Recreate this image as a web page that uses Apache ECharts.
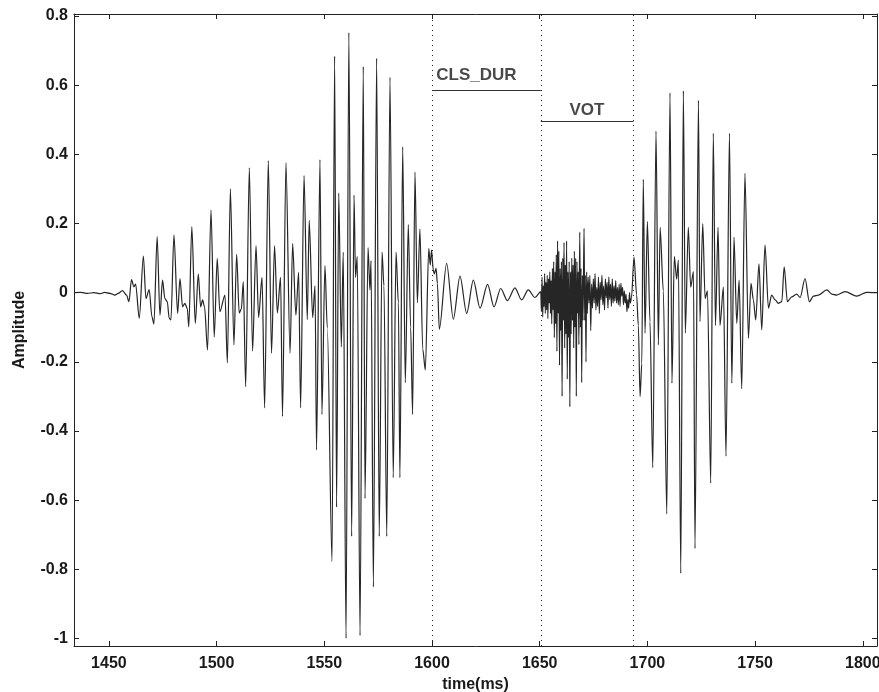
<!DOCTYPE html>
<html>
<head>
<meta charset="utf-8">
<script src="https://cdn.jsdelivr.net/npm/echarts@6/dist/echarts.min.js"></script>
<style>
html,body{margin:0;padding:0;background:#fff;}
#chart{width:879px;height:692px;}
</style>
</head>
<body>
<div id="chart"></div>
<script>
// ---- data (time in ms, amplitude) ----
const xTicks = [1450, 1500, 1550, 1600, 1650, 1700, 1750, 1800];
const yTicks = [-1, -0.8, -0.6, -0.4, -0.2, 0, 0.2, 0.4, 0.6, 0.8];

const silenceStart = [
  [1433.8, 0.000], [1437, 0.001], [1440, -0.002], [1443, 0.000], [1446, -0.003], [1448, 0.001], [1450.5, -0.002]
];

const vowel1Onset = [
  [1452.8, -0.007], [1454.3, -0.002], [1456.3, 0.006], [1458.2, -0.007], [1459.3, -0.026], [1460.5, 0.038],
  [1461.6, 0.017], [1462.4, 0.025], [1464.1, -0.074], [1466.0, 0.106], [1467.2, -0.017], [1468.7, 0.009],
  [1470.0, -0.070], [1470.9, -0.091], [1472.4, 0.162], [1473.7, -0.065], [1474.9, 0.036], [1476.0, -0.017],
  [1477.1, -0.026], [1478.0, -0.074], [1478.8, -0.079], [1480.2, 0.167], [1481.9, -0.060], [1483.0, 0.041],
  [1484.2, -0.041], [1485.3, -0.031], [1486.4, -0.046], [1487.1, -0.099], [1488.5, 0.191], [1490.1, -0.089],
  [1491.5, 0.054], [1492.6, -0.041], [1493.5, -0.021], [1494.4, -0.041], [1495.8, -0.166], [1497.4, 0.239],
  [1498.9, -0.128], [1500.3, 0.099], [1501.5, -0.055], [1503.9, -0.007], [1505.0, -0.203], [1506.4, 0.300]
];

const vowel1Body = [
  [1508.05, -0.151], [1509.3, 0.111], [1510.5, -0.059], [1511.5, -0.047], [1512.4, 0.032], [1513.5, -0.272],
  [1515.2, 0.361], [1516.7, -0.169], [1518.3, 0.136], [1519.5, -0.072], [1521.1, 0.044], [1522.3, -0.333],
  [1524.0, 0.382], [1525.5, -0.175], [1526.9, 0.136], [1528.2, -0.059], [1529.7, 0.044], [1530.6, -0.358],
  [1532.2, 0.376], [1534.1, -0.175], [1535.3, 0.142], [1536.8, -0.065], [1538.1, 0.059], [1539.0, -0.333],
  [1540.6, 0.339], [1542.1, -0.078], [1543.0, 0.209], [1544.6, -0.072], [1545.7, 0.020], [1546.4, -0.455],
  [1548.0, 0.385], [1548.9, -0.352], [1550.3, 0.078], [1551.4, -0.102], [1553.6, -0.778], [1554.8, 0.684],
  [1555.7, -0.620], [1556.7, 0.288], [1557.9, -0.157], [1558.8, 0.117], [1560.1, -1.0], [1561.4, 0.752],
  [1562.7, -0.705], [1563.8, 0.282], [1564.5, 0.044], [1565.3, 0.105], [1566.6, -0.992], [1568.1, 0.654],
  [1568.9, -0.595], [1570.3, 0.130], [1571.2, 0.008], [1571.7, 0.093], [1572.8, -0.851], [1574.3, 0.678],
  [1575.5, -0.705], [1576.8, 0.117], [1577.7, 0.020], [1579.0, -0.705], [1580.5, 0.623], [1582.0, -0.535],
  [1583.3, 0.117], [1584.4, -0.029], [1585.1, -0.535], [1586.4, 0.422], [1587.6, -0.260], [1589.0, 0.197],
  [1590.1, -0.102], [1591.0, -0.352], [1592.1, 0.349], [1593.2, -0.029], [1594.4, 0.184], [1595.7, -0.163],
  [1596.9, -0.224], [1598.5, 0.128], [1599.2, 0.080], [1599.8, 0.123]
];

const closure = [
  [1600.6, 0.065], [1601.1, 0.054], [1601.9, 0.070], [1602.5, 0.027], [1603.4, -0.106], [1606.8, 0.085],
  [1609.9, -0.077], [1613.0, 0.048], [1616.1, -0.060], [1619.2, 0.036], [1622.3, -0.045], [1625.8, 0.024],
  [1628.8, -0.041], [1631.9, 0.012], [1635.0, -0.023], [1638.5, 0.014], [1641.6, -0.021], [1644.7, 0.008],
  [1647.8, -0.014], [1650.5, 0.003]
];

const burst = [
  [1650.8, -0.055], [1651.1, 0.045], [1651.4, -0.070], [1651.7, 0.020], [1652.0, -0.040], [1652.3, 0.055],
  [1652.6, -0.060], [1652.9, 0.030], [1653.2, -0.050], [1653.5, 0.050], [1653.8, -0.075], [1654.1, 0.040],
  [1654.4, -0.030], [1654.7, 0.060], [1655.0, -0.060], [1655.3, 0.035], [1655.6, -0.090], [1655.9, 0.070],
  [1656.2, -0.050], [1656.5, 0.090], [1656.8, -0.130], [1657.1, 0.060], [1657.4, -0.090], [1657.7, 0.110],
  [1658.0, -0.170], [1658.3, 0.150], [1658.6, -0.060], [1658.9, 0.120], [1659.2, -0.210], [1659.5, 0.070],
  [1659.8, -0.110], [1660.1, 0.090], [1660.4, -0.300], [1660.7, 0.100], [1661.0, -0.080], [1661.3, 0.145],
  [1661.6, -0.160], [1661.9, 0.080], [1662.2, -0.120], [1662.5, 0.150], [1662.8, -0.250], [1663.1, 0.060],
  [1663.4, -0.130], [1663.7, 0.090], [1664.0, -0.330], [1664.3, 0.060], [1664.6, -0.120], [1664.9, 0.100],
  [1665.2, -0.080], [1665.5, 0.080], [1665.8, -0.160], [1666.1, 0.120], [1666.4, -0.100], [1666.7, 0.100],
  [1667.0, -0.300], [1667.3, 0.090], [1667.6, -0.060], [1667.9, 0.060], [1668.2, -0.150], [1668.6, 0.175],
  [1668.9, -0.100], [1669.2, 0.070], [1669.5, -0.260], [1669.8, 0.050], [1670.1, -0.080], [1670.6, 0.186],
  [1670.9, -0.080], [1671.2, 0.050], [1671.5, -0.200], [1671.8, 0.060], [1672.1, -0.060], [1672.5, 0.045],
  [1672.9, -0.030], [1673.3, 0.050], [1673.7, -0.110], [1674.1, 0.025], [1674.5, -0.045], [1674.9, 0.040],
  [1675.3, -0.030], [1675.7, 0.055], [1676.1, -0.050], [1676.5, 0.015], [1676.9, -0.040], [1677.3, 0.045],
  [1677.7, -0.060], [1678.1, 0.030], [1678.5, -0.020], [1678.9, 0.050], [1679.3, -0.035], [1679.7, 0.020],
  [1680.1, -0.050], [1680.5, 0.040], [1680.9, -0.015], [1681.3, 0.030], [1681.7, -0.045], [1682.1, 0.045],
  [1682.5, -0.020], [1682.9, 0.025], [1683.3, -0.040], [1683.7, 0.040], [1684.1, -0.030], [1684.5, 0.020],
  [1684.9, -0.025], [1685.3, 0.035], [1685.7, -0.030], [1686.1, 0.015], [1686.5, -0.035], [1686.9, 0.025],
  [1687.3, -0.040], [1687.7, 0.027], [1688.1, -0.010], [1688.5, 0.015], [1688.9, -0.035], [1689.3, 0.005],
  [1689.7, -0.030], [1690.1, -0.005], [1690.5, -0.055], [1690.9, -0.020], [1691.3, -0.045], [1691.7, 0.000],
  [1692.1, -0.030], [1692.6, -0.015]
];

const vowel2 = [
  [1693.8, 0.103], [1695.0, -0.006], [1695.8, -0.095], [1696.6, -0.300], [1697.4, -0.206], [1698.1, 0.328],
  [1698.9, -0.117], [1700.0, 0.206], [1701.2, -0.084], [1702.5, -0.506], [1704.0, 0.467], [1705.1, -0.151],
  [1705.9, 0.189], [1707.4, 0.005], [1709.0, -0.640], [1710.5, 0.578], [1711.4, -0.262], [1712.5, 0.105],
  [1713.6, 0.039], [1714.4, 0.094], [1715.5, -0.812], [1716.7, 0.584], [1717.6, -0.117], [1719.0, 0.189],
  [1720.1, 0.016], [1721.4, 0.061], [1722.1, -0.740], [1723.7, 0.556], [1724.4, -0.084], [1725.7, 0.200],
  [1726.8, -0.017], [1727.9, 0.005], [1729.4, -0.551], [1730.6, 0.461], [1731.6, -0.095], [1732.8, 0.189],
  [1733.7, -0.095], [1735.3, 0.016], [1736.5, -0.473], [1738.1, 0.461], [1739.2, -0.262], [1740.2, 0.161],
  [1741.5, -0.089], [1742.6, 0.036], [1743.8, -0.278], [1745.3, 0.345], [1746.9, -0.132]
];

const decay = [
  [1748.1, 0.027], [1749.2, -0.021], [1750.3, -0.079], [1751.8, 0.083], [1753.1, -0.108], [1754.6, 0.138],
  [1756.2, -0.045], [1757.7, -0.007], [1759.3, -0.021], [1760.8, -0.031], [1762.4, -0.026], [1763.5, 0.075],
  [1765.0, -0.026], [1767.0, -0.012], [1769.3, -0.004], [1770.9, -0.014], [1773.2, 0.041], [1775.2, -0.026],
  [1777.1, -0.010], [1779.4, -0.007], [1783.3, 0.008], [1785.6, -0.004], [1787.9, -0.007], [1791.8, 0.003],
  [1797.2, -0.010], [1801.8, 0.001], [1806.6, 0.000]
];

const segmentBounds = [1600, 1650.5, 1693.5];   // dotted markers (ms)
const clsDur = { label: 'CLS_DUR', from: 1600, to: 1650.5, level: 0.586 };
const vot = { label: 'VOT', from: 1650.5, to: 1693.5, level: 0.496 };

const waveform = [].concat(silenceStart, vowel1Onset, vowel1Body, closure, burst, vowel2, decay);

// ---- chart ----
const chart = echarts.init(document.getElementById('chart'), null, { renderer: 'canvas' });
const FONT = 'Liberation Sans, Arial, Helvetica, sans-serif';
const X_MIN = 1433.8, X_MAX = 1806.6, Y_MIN = -1.022, Y_MAX = 0.806;
const axisColor = '#222';
const textColor = '#1a1a1a';

const option = {
  animation: false,
  backgroundColor: '#fff',
  grid: { left: 74, right: 2, top: 14, bottom: 46, containLabel: false, outerBoundsMode: 'none' },
  xAxis: [
    {
      type: 'value', min: X_MIN, max: X_MAX, position: 'bottom',
      name: 'time(ms)', nameLocation: 'middle', nameGap: 29,
      nameTextStyle: { fontFamily: FONT, fontWeight: 'bold', fontSize: 16, color: textColor },
      axisLine: { show: true, onZero: false, lineStyle: { color: axisColor, width: 1 } },
      axisTick: { show: true, inside: true, length: 5, customValues: xTicks, lineStyle: { color: axisColor } },
      axisLabel: { show: true, customValues: xTicks, margin: 10, formatter: v => String(v),
                   fontFamily: FONT, fontWeight: 'bold', fontSize: 16, color: textColor },
      splitLine: { show: false }
    },
    {
      type: 'value', min: X_MIN, max: X_MAX, position: 'top',
      axisLine: { show: true, onZero: false, lineStyle: { color: axisColor, width: 1 } },
      axisTick: { show: true, inside: true, length: 5, customValues: xTicks, lineStyle: { color: axisColor } },
      axisLabel: { show: false },
      splitLine: { show: false }
    }
  ],
  yAxis: [
    {
      type: 'value', min: Y_MIN, max: Y_MAX, position: 'left',
      name: 'Amplitude', nameLocation: 'middle', nameGap: 46, nameRotate: 90,
      nameTextStyle: { fontFamily: FONT, fontWeight: 'bold', fontSize: 16, color: textColor },
      axisLine: { show: true, onZero: false, lineStyle: { color: axisColor, width: 1 } },
      axisTick: { show: true, inside: true, length: 5, customValues: yTicks, lineStyle: { color: axisColor } },
      axisLabel: { show: true, customValues: yTicks, margin: 6, formatter: v => String(v),
                   fontFamily: FONT, fontWeight: 'bold', fontSize: 16, color: textColor },
      splitLine: { show: false }
    },
    {
      type: 'value', min: Y_MIN, max: Y_MAX, position: 'right',
      axisLine: { show: true, onZero: false, lineStyle: { color: axisColor, width: 1 } },
      axisTick: { show: true, inside: true, length: 5, customValues: yTicks, lineStyle: { color: axisColor } },
      axisLabel: { show: false },
      splitLine: { show: false }
    }
  ],
  series: [
    {
      name: 'waveform', type: 'line', xAxisIndex: 0, yAxisIndex: 0,
      data: waveform, showSymbol: false, symbol: 'none',
      smooth: 0.3, smoothMonotone: 'x',
      lineStyle: { color: '#262626', width: 1.2 },
      markLine: {
        silent: true, symbol: ['none', 'none'], animation: false,
        label: { show: false },
        data: [
          ...segmentBounds.map(t => ({ xAxis: t, lineStyle: { type: [1, 4], color: '#222', width: 1 } })),
          [{ coord: [clsDur.from, clsDur.level], lineStyle: { type: 'solid', color: '#333', width: 1 } }, { coord: [clsDur.to, clsDur.level] }],
          [{ coord: [vot.from, vot.level], lineStyle: { type: 'solid', color: '#333', width: 1 } }, { coord: [vot.to, vot.level] }]
        ]
      }
    },
    {
      name: 'labels', type: 'scatter', xAxisIndex: 0, yAxisIndex: 0, symbolSize: 0, silent: true,
      data: [
        { value: [1602.0, 0.630], name: clsDur.label },
        { value: [1663.8, 0.526], name: vot.label }
      ],
      label: {
        show: true, position: 'right', distance: 0, formatter: p => p.name,
        fontFamily: FONT, fontWeight: 'bold', fontSize: 17, color: textColor
      }
    }
  ]
};
chart.setOption(option);
</script>
</body>
</html>
